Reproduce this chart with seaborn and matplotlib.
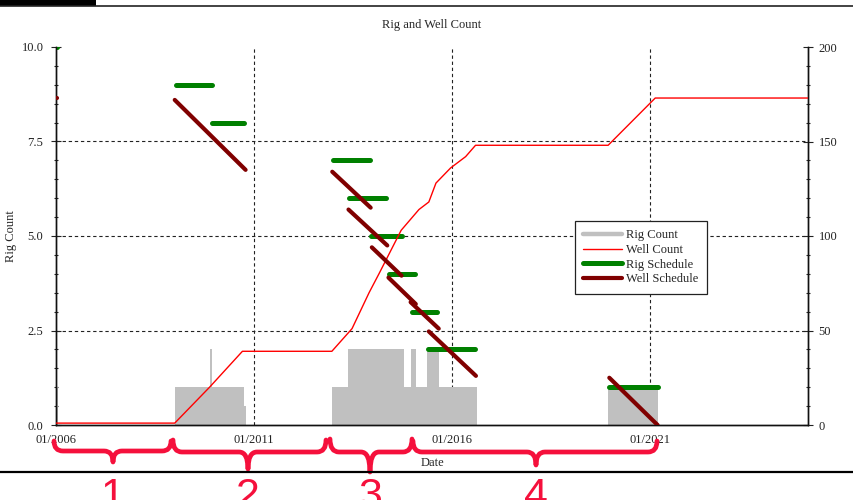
import matplotlib
matplotlib.use("Agg")
import numpy as np
import pandas as pd
import matplotlib.pyplot as plt
from matplotlib.lines import Line2D
from matplotlib.patches import PathPatch, Rectangle
from matplotlib.path import Path
from matplotlib.ticker import MultipleLocator, FixedLocator, FormatStrFormatter
import seaborn as sns

# ---------------------------------------------------------------- data
# Active rigs (step series, value holds until the next date), decimal years
rig_year = [2006.0, 2006.06, 2009.0, 2009.88, 2009.95, 2010.76, 2010.81,
            2012.97, 2013.38, 2014.79, 2014.97, 2015.09, 2015.38, 2015.67,
            2016.64, 2019.95, 2021.2]
rig_count = [1, 0, 1, 2, 1, 0.5, 0, 1, 2, 1, 2, 1, 2, 1, 0, 1, 0]

# Cumulative wells drilled
well_year = [2006.0, 2009.0, 2009.88, 2010.71, 2012.97, 2013.48, 2013.91,
             2014.16, 2014.72, 2015.17, 2015.42, 2015.6, 2015.97, 2016.35,
             2016.6, 2019.95, 2021.14, 2025.0]
well_count = [1, 1, 20, 39, 39, 51, 70, 80, 103, 114, 118, 128, 136, 142,
              148, 148, 173, 173]

# Rig schedule: planned rig level per campaign
rig_sched_start = [2006.0, 2009.02, 2009.93, 2012.99, 2013.41, 2013.96,
                   2014.41, 2014.99, 2015.41, 2019.98]
rig_sched_end = [2006.02, 2009.94, 2010.74, 2013.94, 2014.35, 2014.75,
                 2015.06, 2015.63, 2016.59, 2021.2]
rig_sched_level = [10, 9, 8, 7, 6, 5, 4, 3, 2, 1]

# Well schedule: wells remaining over each campaign
well_sched_start = [2006.0, 2009.0, 2012.98, 2013.39, 2013.98, 2014.4,
                    2014.96, 2015.42, 2019.98]
well_sched_end = [2006.02, 2010.79, 2013.95, 2014.37, 2014.73, 2015.09,
                  2015.67, 2016.61, 2021.2]
well_sched_from = [173, 172, 134, 114, 94, 78, 65, 49.5, 25]
well_sched_to = [173, 135, 115, 95, 79, 64, 51, 26, 0]

tick_years = [2006, 2011, 2016, 2021]
tick_labels = ["01/2006", "01/2011", "01/2016", "01/2021"]

# segment tables for seaborn (one unit per segment)
rig_sched = pd.DataFrame({
    "seg": np.repeat(np.arange(len(rig_sched_level)), 2),
    "year": np.ravel(np.column_stack([rig_sched_start, rig_sched_end])),
    "rigs": np.repeat(rig_sched_level, 2),
})
well_sched = pd.DataFrame({
    "seg": np.repeat(np.arange(len(well_sched_from)), 2),
    "year": np.ravel(np.column_stack([well_sched_start, well_sched_end])),
    "wells": np.ravel(np.column_stack([well_sched_from, well_sched_to])),
})
wells = pd.DataFrame({"year": well_year, "wells": well_count})

# ---------------------------------------------------------------- style
sns.set_style("white")
plt.rcParams["font.family"] = ["Liberation Serif", "DejaVu Serif"]
plt.rcParams["font.size"] = 9

W, H = 854, 500
fig = plt.figure(figsize=(W / 100, H / 100), dpi=100)
ax = fig.add_axes([56 / W, 75 / H, 752 / W, 378 / H])
ax2 = ax.twinx()

GRID = dict(color="#222222", lw=0.8, ls=(0, (3, 2.5)), zorder=0.5)
for y in (2.5, 5.0, 7.5):
    ax.axhline(y, **GRID)
for x in tick_years[1:]:
    ax.axvline(x, **GRID)

# rig count area
ax.fill_between(rig_year, rig_count, step="post", color="#c0c0c0",
                lw=0, zorder=1)

# rig schedule bars
sns.lineplot(data=rig_sched, x="year", y="rigs", units="seg",
             estimator=None, color="#008000", lw=3.6,
             solid_capstyle="round", ax=ax, legend=False, zorder=3)

# well count and well schedule on the right axis
sns.lineplot(data=wells, x="year", y="wells", color="#ff0000", lw=1.0,
             ax=ax2, legend=False, zorder=3)
sns.lineplot(data=well_sched, x="year", y="wells", units="seg",
             estimator=None, color="#800000", lw=3.0,
             solid_capstyle="round", ax=ax2, legend=False, zorder=4)

# ---------------------------------------------------------------- axes
ax.set_xlim(2006, 2025)
ax.set_ylim(0, 10)
ax2.set_ylim(0, 200)

ax.xaxis.set_major_locator(FixedLocator(tick_years))
ax.set_xticklabels(tick_labels)
ax.xaxis.set_minor_locator(MultipleLocator(1))
ax.yaxis.set_major_locator(MultipleLocator(2.5))
ax.yaxis.set_minor_locator(MultipleLocator(0.5))
ax.yaxis.set_major_formatter(FormatStrFormatter("%.1f"))
ax2.yaxis.set_major_locator(MultipleLocator(50))
ax2.yaxis.set_minor_locator(MultipleLocator(10))

ax.tick_params(axis="y", which="major", direction="inout", length=7,
               width=0.8, pad=5.5, labelsize=9, colors="#222222")
ax.tick_params(axis="y", which="minor", direction="inout", length=3.5,
               width=0.8)
ax2.tick_params(axis="y", which="major", direction="inout", length=7,
                width=0.8, pad=4.2, labelsize=9, colors="#222222")
ax2.tick_params(axis="y", which="minor", direction="inout", length=3.5,
                width=0.8)
ax.tick_params(axis="x", which="major", direction="out", length=4,
               width=0.8, pad=2.5, labelsize=9, colors="#222222")
ax.tick_params(axis="x", which="minor", direction="in", length=3,
               width=0.8)

for a in (ax, ax2):
    a.spines["top"].set_visible(False)
    for s in ("left", "right", "bottom"):
        a.spines[s].set_color("#111111")
        a.spines[s].set_linewidth(1.0)

ax.set_xlabel("Date", fontsize=9, labelpad=8)
ax.set_ylabel("Rig Count", fontsize=9, labelpad=3)
ax2.set_ylabel("Well Count", fontsize=9, rotation=270, labelpad=18)
ax.set_title("Rig and Well Count", fontsize=9, pad=14)

handles = [
    Line2D([], [], color="#c0c0c0", lw=3.2),
    Line2D([], [], color="#ff0000", lw=1.0),
    Line2D([], [], color="#008000", lw=3.6),
    Line2D([], [], color="#800000", lw=3.0),
]
labels = ["Rig Count", "Well Count", "Rig Schedule", "Well Schedule"]
leg = ax2.legend(handles, labels, loc="upper left",
                 bbox_to_anchor=(575 / W, 1 - 221 / H),
                 bbox_transform=fig.transFigure, borderaxespad=0,
                 frameon=True, fancybox=False, framealpha=1,
                 edgecolor="#222222", fontsize=9, handlelength=3.1,
                 handletextpad=0.35, labelspacing=0.22, borderpad=0.65)
leg.get_frame().set_linewidth(0.9)
leg.set_zorder(10)


# ---------------------------------------------------------------- period braces
def px(x, y):
    return (x / W, 1 - y / H)


BRACE_RED = "#f5103c"


def brace(x0, x1, xc, y_end, y_bar, y_tip, r=9):
    pts = [(x0, y_end), (x0, y_bar), (x0 + r, y_bar), (xc - r, y_bar),
           (xc, y_bar), (xc, y_tip), (xc, y_bar), (xc + r, y_bar),
           (x1 - r, y_bar), (x1, y_bar), (x1, y_end)]
    codes = [Path.MOVETO, Path.CURVE3, Path.CURVE3, Path.LINETO,
             Path.CURVE3, Path.CURVE3, Path.CURVE3, Path.CURVE3,
             Path.LINETO, Path.CURVE3, Path.CURVE3]
    path = Path([px(*p) for p in pts], codes)
    fig.add_artist(PathPatch(path, transform=fig.transFigure, fill=False,
                             ec=BRACE_RED, lw=3.4, capstyle="round",
                             joinstyle="round"))


brace(54, 171, 113, 441, 451, 462)
brace(173, 326, 248, 440, 452, 469)
brace(330, 412, 370, 439, 452, 472)
brace(413, 657, 536, 441, 452, 465)
for x, s in [(113, "1"), (248, "2"), (370, "3"), (536, "4")]:
    fig.text(*px(x, 508), s, ha="center", va="baseline", fontsize=31,
             color=BRACE_RED, family=["Liberation Sans", "DejaVu Sans"])

# page frame lines
fig.add_artist(Rectangle(px(0, 6), 96 / W, 6 / H, transform=fig.transFigure,
                         color="black", lw=0))
fig.add_artist(Line2D([0, 1], [1 - 5.6 / H] * 2, transform=fig.transFigure,
                      color="#222222", lw=1.2))
fig.add_artist(Line2D([0, 1], [1 - 472 / H] * 2, transform=fig.transFigure,
                      color="black", lw=1.6))

fig.savefig("out.png", dpi=100)
